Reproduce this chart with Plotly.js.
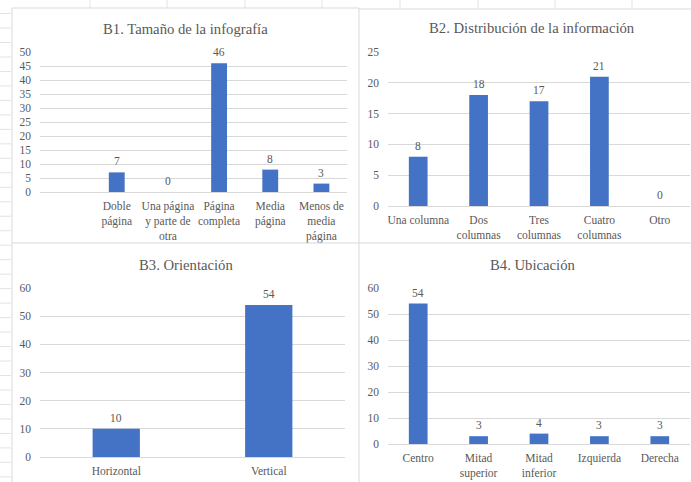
<!DOCTYPE html>
<html>
<head>
<meta charset="utf-8">
<script src="https://cdn.plot.ly/plotly-3.0.1.min.js"></script>
<style>
  html, body { margin: 0; padding: 0; background: #ffffff; }
  #chart { width: 691px; height: 482px; }
</style>
</head>
<body>
<div id="chart"></div>
<script>
// B1. Tamaño de la infografía
const tamanoCats = ["Doble<br>página", "Una página<br>y parte de<br>otra", "Página<br>completa", "Media<br>página", "Menos de<br>media<br>página"];
const tamanoVals = [7, 0, 46, 8, 3];

// B2. Distribución de la información
const distribCats = ["Una columna", "Dos<br>columnas", "Tres<br>columnas", "Cuatro<br>columnas", "Otro"];
const distribVals = [8, 18, 17, 21, 0];

// B3. Orientación
const orientCats = ["Horizontal", "Vertical"];
const orientVals = [10, 54];

// B4. Ubicación
const ubicCats = ["Centro", "Mitad<br>superior", "Mitad<br>inferior", "Izquierda", "Derecha"];
const ubicVals = [54, 3, 4, 3, 3];

const titles = ["B1. Tamaño de la infografía", "B2. Distribución de la información", "B3. Orientación", "B4. Ubicación"];

const W = 691, H = 482;
const FONT = "Liberation Serif";
const TXT = "#595959";
const GRID = "#d9d9d9";
const BAR = "#4472c4";

const px = v => v / W;
const py = v => 1 - v / H;

const panels = [
  { cats: tamanoCats, vals: tamanoVals, ymax: 50, dtick: 5, xd: [40, 347], yd: [52, 192], xr: [-1.5, 4.5], title: [186, 29] },
  { cats: distribCats, vals: distribVals, ymax: 25, dtick: 5, xd: [388, 690], yd: [52, 206], xr: null, title: [532, 28] },
  { cats: orientCats, vals: orientVals, ymax: 60, dtick: 10, xd: [40, 345], yd: [288, 457], xr: null, title: [186, 265] },
  { cats: ubicCats, vals: ubicVals, ymax: 60, dtick: 10, xd: [388, 690], yd: [288, 444], xr: null, title: [532, 265] }
];

const data = [];
const annotations = [];
const layout = {
  width: W, height: H,
  margin: { l: 0, r: 0, t: 0, b: 0 },
  paper_bgcolor: "#ffffff",
  plot_bgcolor: "rgba(0,0,0,0)",
  showlegend: false,
  bargap: 0.69,
  font: { family: FONT, color: TXT, size: 11.5 },
  shapes: []
};

panels.forEach((p, i) => {
  const n = i === 0 ? "" : String(i + 1);
  const xa = "x" + n, ya = "y" + n;
  data.push({
    type: "bar",
    x: p.cats.map((c, k) => k),
    y: p.vals,
    xaxis: xa, yaxis: ya,
    marker: { color: BAR },
    hoverinfo: "skip"
  });
  const rng = p.xr || [-0.5, p.cats.length - 0.5];
  layout["xaxis" + n] = {
    domain: [px(p.xd[0]), px(p.xd[1])],
    anchor: ya,
    range: rng,
    tickmode: "array",
    tickvals: p.cats.map((c, k) => k),
    ticktext: p.cats,
    showgrid: false,
    zeroline: false,
    showline: true,
    linecolor: GRID,
    linewidth: 1,
    ticks: "",
    ticklabelstandoff: 3,
    tickfont: { family: FONT, color: TXT, size: 11.5 },
    fixedrange: true
  };
  layout["yaxis" + n] = {
    domain: [py(p.yd[1]), py(p.yd[0])],
    anchor: xa,
    range: [0, p.ymax],
    dtick: p.dtick,
    tick0: 0,
    showgrid: true,
    gridcolor: GRID,
    gridwidth: 1,
    zeroline: false,
    showline: false,
    ticks: "",
    ticklabelstandoff: 8,
    tickfont: { family: FONT, color: TXT, size: 11.5 },
    fixedrange: true
  };
  // value labels above each bar
  p.vals.forEach((v, k) => {
    annotations.push({
      xref: xa, yref: ya, x: k, y: v,
      text: String(v), showarrow: false,
      yanchor: "bottom", yshift: 3,
      font: { family: FONT, color: TXT, size: 11.5 }
    });
  });
  annotations.push({
    xref: "paper", yref: "paper",
    x: px(p.title[0]), y: py(p.title[1]),
    xanchor: "center", yanchor: "middle",
    text: titles[i], showarrow: false,
    font: { family: FONT, color: TXT, size: 14.7 }
  });
});

layout.annotations = annotations;

// sheet cell lines visible around the chart frames
const CELL = "#e3e3e3";
const shapes = layout.shapes;
for (let k = -1; k <= 31; k++) {
  const y = 28 + 14.48 * k;
  shapes.push({ type: "line", xref: "paper", yref: "paper", x0: 0, x1: px(11), y0: py(y), y1: py(y), line: { color: CELL, width: 1 } });
}
[90, 167, 245, 322, 400, 478, 555, 632].forEach(x => {
  shapes.push({ type: "line", xref: "paper", yref: "paper", x0: px(x), x1: px(x), y0: py(0), y1: py(8), line: { color: CELL, width: 1 } });
});

// chart frames
const FRAME = "#d9d9d9";
const line = (x0, y0, x1, y1) => shapes.push({ type: "line", xref: "paper", yref: "paper", x0: px(x0), y0: py(y0), x1: px(x1), y1: py(y1), line: { color: FRAME, width: 1 } });
line(12, 8, 359, 8);
line(359, 9, 691, 9);
line(12, 8, 12, 482);
line(359, 8, 359, 482);
line(12, 243, 691, 243);

Plotly.newPlot("chart", data, layout, { staticPlot: true, displayModeBar: false });
</script>
</body>
</html>
